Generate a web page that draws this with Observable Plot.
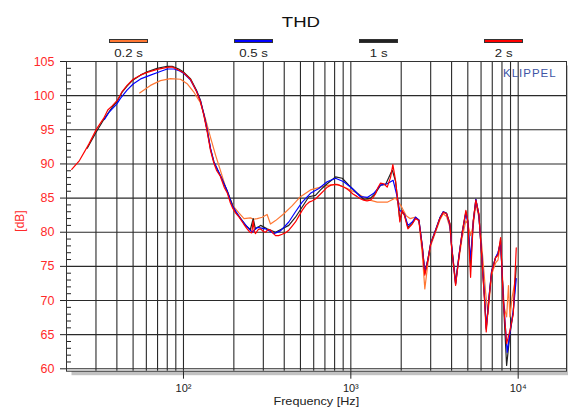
<!DOCTYPE html>
<html><head><meta charset="utf-8">
<script src="https://cdn.jsdelivr.net/npm/d3@7"></script>
<script src="https://cdn.jsdelivr.net/npm/@observablehq/plot@0.6"></script>
<style>
body{margin:0;background:#fff;font-family:"Liberation Sans",Arial,sans-serif;}
#wrap{position:relative;width:568px;height:407px;overflow:hidden;}
#wrap svg{display:block;}
.ov{position:absolute;white-space:nowrap;}
#title{left:0;width:602px;top:14px;text-align:center;font-size:15.5px;line-height:16px;color:#111;}
#title span{display:inline-block;transform:scaleX(1.2);}
.sw{position:absolute;top:38.5px;width:37px;height:2px;border:1px solid #333;}
.lab{top:48px;width:60px;text-align:center;font-size:11.5px;line-height:11px;color:#222;}
.lab span,.st span{display:inline-block;transform:scaleX(1.15);}
#klippel{left:503px;top:67px;font-size:11.5px;letter-spacing:1px;color:#4055a5;line-height:13px;}
#ylab{left:-10px;top:214px;width:60px;height:14px;line-height:14px;text-align:center;font-size:12px;color:#ff2a2a;transform:rotate(-90deg);}
#xlab{left:256px;top:396px;width:120px;text-align:center;font-size:11px;line-height:11px;color:#222;}
</style></head>
<body><div id="wrap"></div>
<script>
// ---- data ----
const seriesNames = ["0.2 s", "0.5 s", "1 s", "2 s"];
const seriesColors = ["#ff7733", "#0000ff", "#222222", "#ff0000"];

const f02 = [54.7, 63.5, 72.8, 83.6, 96, 105.7, 114.7, 126, 135, 145, 155.5, 166, 178, 191, 200, 215, 230, 251.5, 262, 275.7, 295.4, 316, 331, 355, 398, 447, 500, 574, 659, 739, 829, 952, 1092, 1253, 1438, 1650, 1849, 1990, 2143, 2257, 2438, 2551, 2672, 2768, 2886, 3000, 3206, 3405, 3566, 3733, 3909, 4000, 4228, 4421, 4633, 4869, 5000, 5195, 5390, 5585, 5821, 6050, 6400, 6600, 6935, 7328, 7568, 7853, 8250, 8530, 8750, 8922, 9200, 9600];
const db02 = [100.4, 101.5, 102.2, 102.5, 102.4, 101.7, 100.6, 99.0, 96.7, 93.9, 91.3, 89.1, 86.7, 84.7, 83.7, 82.8, 82.0, 82.1, 81.9, 82.0, 82.2, 82.6, 81.2, 81.7, 82.7, 83.9, 85.2, 86.2, 86.6, 86.9, 87.0, 86.4, 85.7, 84.8, 84.4, 84.4, 85.0, 83.9, 82.4, 82.0, 82.2, 81.7, 76.8, 71.7, 75.4, 78.0, 80.0, 81.8, 82.7, 82.3, 80.7, 78.0, 72.9, 76.0, 79.3, 81.7, 81.2, 79.5, 81.0, 84.1, 82.2, 78.2, 71.0, 68.0, 73.8, 75.5, 75.9, 78.3, 69.0, 67.6, 72.2, 67.6, 70.5, 73.0];

const f05 = [33.7, 36, 40, 42, 46, 50, 56, 63.5, 72, 80, 88, 95, 100, 110, 120, 126.4, 132.3, 138.6, 145, 152, 166, 182, 195, 200, 219, 246, 257, 276, 309, 347, 380, 426, 467, 512, 574, 644, 722, 810, 908, 1019, 1143, 1253, 1372, 1505, 1650, 1790, 1892, 1955, 2028, 2094, 2193, 2328, 2438, 2551, 2672, 2768, 2886, 3000, 3206, 3405, 3566, 3733, 3909, 4000, 4228, 4421, 4633, 4869, 5000, 5195, 5390, 5585, 5821, 6000, 6295, 6442, 6680, 6935, 7328, 7568, 7853, 8145, 8600, 8922, 9344, 9738];
const db05 = [96.5, 97.6, 98.8, 99.6, 100.8, 101.7, 102.5, 103.0, 103.5, 103.9, 103.9, 103.6, 103.3, 102.3, 100.6, 99.2, 97.3, 95.0, 92.3, 90.3, 88.3, 86.1, 84.0, 83.5, 82.0, 80.5, 80.0, 80.7, 80.5, 79.8, 80.2, 81.5, 83.0, 84.4, 85.7, 86.4, 87.4, 87.9, 87.4, 86.4, 85.2, 85.1, 85.7, 86.9, 87.1, 87.6, 85.2, 83.2, 83.0, 82.6, 81.0, 81.5, 82.2, 81.8, 78.0, 74.2, 76.0, 78.3, 80.3, 82.1, 83.0, 82.7, 81.0, 78.0, 72.5, 76.5, 80.0, 82.8, 81.5, 76.0, 81.5, 84.8, 82.5, 78.0, 70.5, 66.0, 70.3, 74.3, 76.3, 77.0, 78.5, 70.5, 62.4, 65.3, 68.5, 73.2];

const f1 = [26.6, 30, 33.4, 37.5, 40.2, 43, 46, 50, 55.3, 60.7, 69.6, 79.9, 85.6, 93.7, 99.6, 110, 119.6, 126.4, 132.3, 138.6, 145, 152, 166, 183, 196, 205, 220, 235, 251, 261, 269, 289, 316, 355, 389, 426, 467, 512, 561, 615, 659, 722, 810, 888, 973, 1092, 1197, 1312, 1404, 1505, 1613, 1768, 1849, 1909, 1963, 2028, 2094, 2193, 2328, 2438, 2551, 2672, 2768, 2886, 3000, 3206, 3405, 3566, 3733, 3909, 4000, 4228, 4421, 4633, 4869, 5000, 5195, 5390, 5585, 5821, 6000, 6295, 6442, 6680, 6935, 7328, 7568, 7853, 8145, 8530, 8922, 9344, 9738];
const db1 = [92.3, 94.6, 96.5, 98.3, 99.2, 100.5, 101.4, 102.3, 103.0, 103.5, 104.0, 104.3, 104.3, 103.9, 103.5, 102.5, 100.8, 99.3, 97.3, 94.9, 92.2, 90.3, 88.3, 86.0, 84.0, 83.0, 82.0, 81.0, 80.4, 82.0, 80.5, 81.0, 80.5, 80.0, 80.5, 81.0, 82.2, 83.7, 85.2, 85.4, 86.2, 87.1, 88.1, 87.9, 86.9, 85.7, 84.8, 85.0, 85.7, 86.9, 87.0, 89.1, 87.5, 84.5, 81.8, 83.0, 82.5, 80.7, 81.3, 82.1, 81.8, 78.0, 74.0, 76.0, 78.4, 80.3, 82.1, 83.0, 82.8, 81.3, 78.0, 72.4, 76.4, 80.1, 83.0, 81.6, 75.0, 81.6, 84.8, 82.6, 78.0, 70.3, 65.8, 70.2, 74.2, 76.3, 76.8, 78.8, 70.3, 60.5, 65.0, 68.3, 75.0];

const f2 = [21.5, 23.9, 27.2, 30.2, 33.4, 35.3, 37.5, 40.2, 43, 46, 50, 55.3, 60.7, 69.6, 79.9, 85.6, 93.7, 99.6, 110, 119.6, 126.4, 132.3, 138.6, 145, 152, 158, 166, 175, 183, 190, 196, 205, 215, 229, 240, 249, 256, 261, 265, 269, 280, 289, 300, 310, 320, 332, 345, 355, 370, 389, 405, 426, 446, 467, 490, 512, 540, 563, 590, 617, 659, 690, 723, 760, 810, 850, 892, 940, 976, 1030, 1087, 1140, 1192, 1250, 1309, 1350, 1403, 1450, 1505, 1574, 1650, 1726, 1783, 1849, 1909, 1963, 2028, 2094, 2193, 2328, 2438, 2551, 2672, 2768, 2886, 3000, 3206, 3405, 3566, 3733, 3909, 4000, 4228, 4421, 4633, 4869, 5000, 5195, 5390, 5585, 5821, 6000, 6295, 6442, 6680, 6935, 7328, 7568, 7853, 8145, 8530, 8922, 9344, 9738];
const db2 = [89.2, 90.5, 92.9, 95.1, 96.7, 97.9, 98.5, 99.3, 100.6, 101.5, 102.4, 103.0, 103.4, 103.85, 104.15, 104.2, 103.75, 103.4, 102.4, 100.6, 99.1, 97.1, 94.7, 92.0, 90.1, 89.0, 88.2, 86.6, 85.7, 84.4, 83.6, 82.8, 82.2, 81.2, 80.5, 80.0, 79.9, 81.7, 80.2, 79.8, 80.4, 80.5, 80.1, 80.0, 80.4, 80.3, 79.8, 79.5, 79.5, 79.7, 79.9, 80.3, 80.9, 81.5, 82.4, 83.2, 84.0, 84.4, 84.6, 84.9, 85.6, 86.1, 86.6, 86.9, 87.0, 86.9, 86.7, 86.4, 86.1, 85.6, 85.25, 84.9, 84.7, 84.6, 84.7, 85.0, 85.6, 86.5, 87.2, 87.1, 86.6, 88.0, 89.9, 87.6, 84.6, 81.5, 83.2, 82.4, 80.5, 81.2, 82.0, 81.7, 77.8, 73.7, 75.9, 78.3, 80.2, 82.0, 82.9, 82.7, 81.2, 77.8, 72.2, 76.3, 80.0, 83.2, 81.7, 73.4, 81.7, 84.7, 82.7, 77.8, 70.0, 65.4, 70.0, 74.1, 76.3, 76.6, 79.2, 70.0, 63.7, 65.6, 68.0, 77.7];

const xGrid = [30, 40, 50, 60, 70, 80, 90, 100, 200, 300, 400, 500, 600, 700, 800, 900, 1000, 2000, 3000, 4000, 5000, 6000, 7000, 8000, 9000, 10000];
const xTicks = [100, 1000, 10000];
const xTickLabels = ["10\u00b2", "10\u00b3", "10\u2074"];
const yTicks = [60, 65, 70, 75, 80, 85, 90, 95, 100, 105];
const yMinor = [61,62,63,64,66,67,68,69,71,72,73,74,76,77,78,79,81,82,83,84,86,87,88,89,91,92,93,94,96,97,98,99,101,102,103,104];

// ---- build table (draw order: 0.2 s, 1 s, 0.5 s, 2 s) ----
const sets = [[seriesNames[0], f02, db02], [seriesNames[2], f1, db1], [seriesNames[1], f05, db05], [seriesNames[3], f2, db2]];
const rows = sets.flatMap(([name, fs, ds]) => fs.map((f, i) => ({series: name, f, db: ds[i]})));

const chart = Plot.plot({
  width: 568, height: 407,
  marginLeft: 66, marginRight: 2, marginTop: 61, marginBottom: 36.3,
  style: {fontFamily: "'Liberation Sans', Arial, sans-serif", fontSize: "12px", background: "transparent", overflow: "visible"},
  x: {type: "log", domain: [20, 19440]},
  y: {domain: [59.65, 105]},
  color: {domain: seriesNames, range: seriesColors},
  marks: [
    Plot.frame({fill: "#c2c2c2", dx: 5, dy: 4}),
    Plot.frame({fill: "white"}),
    Plot.ruleX(xGrid, {stroke: "#2a2a2a", strokeWidth: 1.1}),
    Plot.ruleY(yTicks, {stroke: "#2a2a2a", strokeWidth: 1.1}),
    Plot.axisY({ticks: yMinor, tickSize: 5, dx: 5, tickFormat: () => "", stroke: "#222", label: null}),
    Plot.axisY({ticks: yTicks, tickSize: 6, tickPadding: 6, stroke: "#222", fill: "#ff2a2a", label: null, fontSize: 12.5}),
    Plot.axisX({ticks: xTicks, tickSize: 8, tickPadding: 5, stroke: "#222", fill: "#222",
      tickFormat: d => xTickLabels[xTicks.indexOf(d)], label: null, fontSize: 11}),
    Plot.line(rows, {x: "f", y: "db", z: "series", stroke: "series", strokeWidth: 1.2}),
    Plot.frame({stroke: "#333", strokeWidth: 1})
  ]
});
const wrap = document.getElementById("wrap");
wrap.appendChild(chart);

function addDiv(id, cls, html, style) {
  const d = document.createElement("div");
  if (id) d.id = id;
  d.className = cls;
  d.innerHTML = html;
  if (style) Object.assign(d.style, style);
  wrap.appendChild(d);
  return d;
}
addDiv("title", "ov", "<span>THD</span>");
const swLeft = [109, 234, 359, 484];
seriesNames.forEach((n, i) => {
  addDiv(null, "sw", "", {left: swLeft[i] + "px", background: seriesColors[i]});
  addDiv(null, "ov lab", "<span>" + n + "</span>", {left: (swLeft[i] + 19.5 - 30) + "px"});
});
addDiv("klippel", "ov", "KLIPPEL");
addDiv("ylab", "ov", "[dB]");
addDiv("xlab", "ov st", "<span>Frequency [Hz]</span>");
</script>
</body></html>
